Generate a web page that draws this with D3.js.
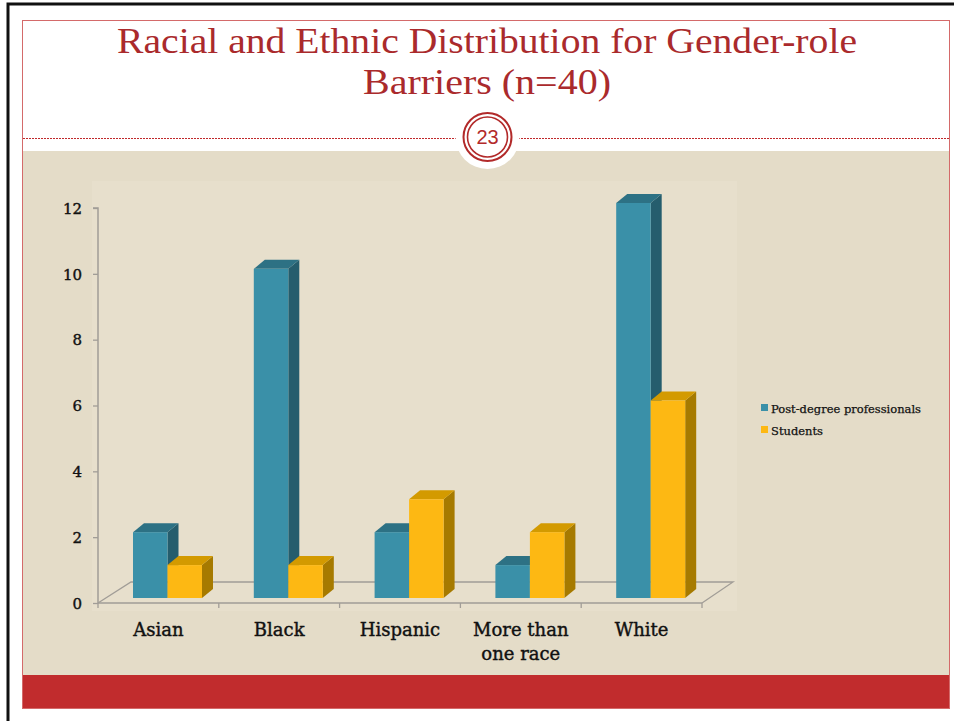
<!DOCTYPE html>
<html>
<head>
<meta charset="utf-8">
<script src="https://cdn.jsdelivr.net/npm/d3@7"></script>
<style>
html,body{margin:0;padding:0;background:#fff;}
svg{display:block;}
</style>
</head>
<body>
<svg id="chart" width="954" height="721"></svg>
<script>
// ---- data ----
const titleLines = ["Racial and Ethnic Distribution for Gender-role", "Barriers (n=40)"];
const slideNumber = "23";
const categories = ["Asian", "Black", "Hispanic", "More than one race", "White"];
const categoryLines = [["Asian"], ["Black"], ["Hispanic"], ["More than", "one race"], ["White"]];
const seriesNames = ["Post-degree professionals", "Students"];
const professionals = [2, 10, 2, 1, 12];
const students = [1, 1, 3, 2, 6];
const yTicks = [0, 2, 4, 6, 8, 10, 12];

const seriesValues = [professionals, students];
const faceColors = [
  {front: "#3a90a8", top: "#2d7184", side: "#255d6d"},
  {front: "#fdb813", top: "#d39a00", side: "#a67a00"}
];

const svg = d3.select("#chart");

// ---- slide frame ----
svg.append("rect").attr("x", 0).attr("y", 0).attr("width", 954).attr("height", 721).attr("fill", "#fff");
svg.append("rect").attr("x", 22).attr("y", 151).attr("width", 928).attr("height", 524).attr("fill", "#e4dcc8");
svg.append("rect").attr("x", 92).attr("y", 181).attr("width", 645).attr("height", 430).attr("fill", "#e7dfcc");
svg.append("rect").attr("x", 22).attr("y", 675).attr("width", 928).attr("height", 33).attr("fill", "#c12c2d");
svg.append("rect").attr("x", 22.5).attr("y", 20.5).attr("width", 927).attr("height", 688)
  .attr("fill", "none").attr("stroke", "#d46a6a").attr("stroke-width", 1);
svg.append("path").attr("d", "M8,721 L8,4 L954,4").attr("fill", "none").attr("stroke", "#111").attr("stroke-width", 3);

svg.append("line").attr("x1", 23).attr("x2", 949).attr("y1", 138.5).attr("y2", 138.5)
  .attr("stroke", "#c0282b").attr("stroke-width", 1).attr("stroke-dasharray", "2,1");

// badge
svg.append("circle").attr("cx", 487.5).attr("cy", 137).attr("r", 32).attr("fill", "#fff");
svg.append("circle").attr("cx", 487.5).attr("cy", 137).attr("r", 24).attr("fill", "none").attr("stroke", "#b22a2a").attr("stroke-width", 2);
svg.append("circle").attr("cx", 487.5).attr("cy", 137).attr("r", 20).attr("fill", "none").attr("stroke", "#b22a2a").attr("stroke-width", 1.6);
svg.append("text").attr("x", 487.5).attr("y", 144).attr("text-anchor", "middle")
  .attr("font-family", "Liberation Sans, Arial, sans-serif").attr("font-size", 20).attr("fill", "#b22a2a")
  .text(slideNumber);

// title
const titleWidths = [740, 248];
svg.append("g").selectAll("text").data(titleLines).join("text")
  .attr("x", 487).attr("y", (d, i) => 53 + i * 41)
  .attr("text-anchor", "middle")
  .attr("font-family", "Liberation Serif, Times New Roman, serif")
  .attr("font-size", 36)
  .attr("fill", "#aa2a2c")
  .attr("textLength", (d, i) => titleWidths[i])
  .attr("lengthAdjust", "spacingAndGlyphs")
  .text(d => d);

// ---- chart geometry ----
const x0 = 98, x1 = 702, yBase = 603, yTop = 208;
const xBand = d3.scaleBand().domain(categories).range([x0, x1]).padding(0);
const xSeries = d3.scaleBand().domain(seriesNames).range([35, 104]).padding(0);
const y = d3.scaleLinear().domain([0, 12]).range([yBase, yTop]);
const barLift = 5;
const depth = {dx: 11, dy: -9};
const floorDepth = {dx: 33, dy: -21};
const gridColor = "#a19d97";

// floor
svg.append("path")
  .attr("d", `M${x0},${yBase} L${x0 + floorDepth.dx},${yBase + floorDepth.dy} L${x1 + floorDepth.dx - 2},${yBase + floorDepth.dy} L${x1},${yBase}`)
  .attr("fill", "none").attr("stroke", gridColor).attr("stroke-width", 1.3);

// y axis
const yAxis = d3.axisLeft(y).tickValues(yTicks).tickSize(5).tickPadding(11).tickFormat(d3.format("d"));
const yG = svg.append("g").attr("transform", `translate(${x0},0)`).call(yAxis);
yG.select(".domain").attr("stroke", gridColor).attr("stroke-width", 1.5).attr("d", `M-5,${yTop}H0V${yBase}`);
yG.selectAll(".tick line").attr("stroke", gridColor).attr("stroke-width", 1.3);
yG.selectAll(".tick text").attr("font-family", "DejaVu Serif, serif").attr("font-size", 15).attr("fill", "#111")
  .attr("stroke", "#111").attr("stroke-width", 0.4).attr("dy", "0.35em");

// x axis line + boundary ticks
const xG = svg.append("g");
xG.append("line").attr("x1", x0).attr("x2", x1).attr("y1", yBase).attr("y2", yBase).attr("stroke", gridColor).attr("stroke-width", 1.5);
const boundaries = categories.map(c => xBand(c)).concat([x1]);
xG.selectAll("line.tk").data(boundaries).join("line").attr("class", "tk")
  .attr("x1", d => d).attr("x2", d => d).attr("y1", yBase).attr("y2", yBase + 5)
  .attr("stroke", gridColor).attr("stroke-width", 1.3);

// category labels
const labG = svg.append("g");
categories.forEach((c, i) => {
  const cx = xBand(c) + xBand.bandwidth() / 2;
  const t = labG.append("text")
    .attr("x", cx).attr("y", 636)
    .attr("text-anchor", "middle")
    .attr("font-family", "DejaVu Serif, serif")
    .attr("font-size", 18)
    .attr("fill", "#111").attr("stroke", "#111").attr("stroke-width", 0.4);
  categoryLines[i].forEach((ln, j) => {
    t.append("tspan").attr("x", cx).attr("dy", j === 0 ? 0 : 24).text(ln);
  });
});

// bars (3D)
const barsG = svg.append("g");
categories.forEach((c, ci) => {
  seriesNames.forEach((s, si) => {
    const v = seriesValues[si][ci];
    const left = xBand(c) + xSeries(s);
    const w = xSeries.bandwidth();
    const top = y(v) - barLift;
    const bot = y(0) - barLift;
    const col = faceColors[si];
    const g = barsG.append("g");
    g.append("path").attr("d", `M${left + w},${top} L${left + w + depth.dx},${top + depth.dy} L${left + w + depth.dx},${bot + depth.dy} L${left + w},${bot}Z`).attr("fill", col.side);
    g.append("path").attr("d", `M${left},${top} L${left + depth.dx},${top + depth.dy} L${left + w + depth.dx},${top + depth.dy} L${left + w},${top}Z`).attr("fill", col.top);
    g.append("rect").attr("x", left).attr("y", top).attr("width", w).attr("height", bot - top).attr("fill", col.front);
  });
});

// legend
const legG = svg.append("g").attr("transform", "translate(761,404)");
const leg = legG.selectAll("g").data(seriesNames).join("g").attr("transform", (d, i) => `translate(0,${i * 22})`);
leg.append("rect").attr("x", 0).attr("y", 0).attr("width", 7).attr("height", 7).attr("fill", (d, i) => faceColors[i].front);
leg.append("text").attr("x", 10).attr("y", 8.5).attr("font-family", "DejaVu Serif, serif").attr("font-size", 11.5)
  .attr("fill", "#111").attr("stroke", "#111").attr("stroke-width", 0.25).text(d => d);
</script>
</body>
</html>
